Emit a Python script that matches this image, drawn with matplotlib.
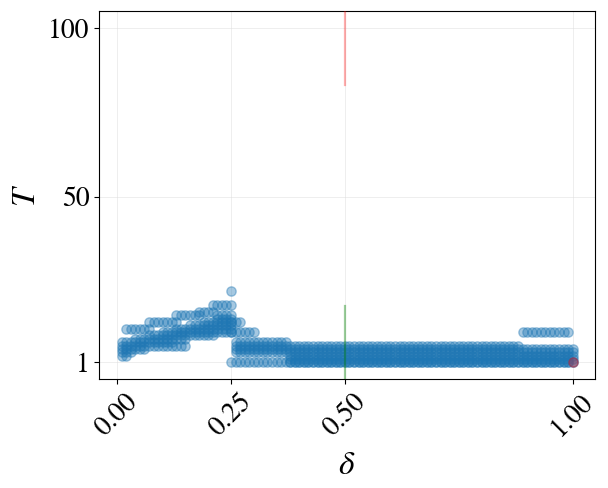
import numpy as np
import matplotlib
matplotlib.use("Agg")
import matplotlib.pyplot as plt

plt.rcParams['font.family'] = ['STIXGeneral', 'DejaVu Serif']
plt.rcParams['mathtext.fontset'] = 'stix'

# delta grid of the sweep
delta_grid = [round(0.01 * k, 2) for k in range(1, 101)]

# observed bands: (delta_from, delta_to, T_low, T_high) -> points at every integer T
band_from = [0.01, 0.04, 0.07, 0.10, 0.13, 0.16, 0.19, 0.22,   # rising dark band
             0.02, 0.07, 0.13, 0.18, 0.21,                     # upper light steps
             0.10, 0.25, 0.25, 0.25, 0.26, 0.25,
             0.38, 0.89, 0.89, 0.01]
band_to   = [0.03, 0.06, 0.09, 0.12, 0.15, 0.18, 0.21, 0.25,
             0.07, 0.13, 0.18, 0.21, 0.25,
             0.15, 0.25, 0.27, 0.30, 0.37, 1.00,
             0.88, 1.00, 0.99, 0.02]
band_lo   = [4, 5, 6, 7, 8, 9, 9, 10,
             11, 13, 15, 16, 18,
             6, 22, 13, 10, 4, 1,
             1, 1, 10, 3]
band_hi   = [7, 8, 9, 10, 11, 12, 13, 15,
             11, 13, 15, 16, 18,
             6, 22, 13, 10, 7, 1,
             6, 5, 10, 3]

# highlighted point
red_delta = [1.0]
red_T = [1]

xs, ys = [], []
for d0, d1, lo, hi in zip(band_from, band_to, band_lo, band_hi):
    for d in delta_grid:
        if d0 - 1e-9 <= d <= d1 + 1e-9:
            for t in range(lo, hi + 1):
                xs.append(d)
                ys.append(t)

fig = plt.figure(figsize=(6.08, 4.88), dpi=100)
ax = fig.add_axes([0.163, 0.223, 0.816, 0.754])

ax.scatter(xs, ys, s=45, color='#1f77b4', alpha=0.4, zorder=2)
ax.scatter(red_delta, red_T, s=45, color='red', alpha=0.3, zorder=3)

ax.axvline(0.5, ymin=0.8, ymax=1.0, color='red', alpha=0.32, lw=1.6, zorder=4)
ax.axvline(0.5, ymin=0.0, ymax=0.2, color='green', alpha=0.4, lw=1.6, zorder=4)

ax.set_xlim(-0.0395, 1.0495)
ax.set_ylim(-3.95, 104.95)
ax.set_xticks([0.0, 0.25, 0.5, 1.0])
ax.set_xticklabels(['0.00', '0.25', '0.50', '1.00'], rotation=45)
ax.set_yticks([1, 50, 100])
ax.set_yticklabels(['1', '50', '100'])
ax.tick_params(labelsize=20)
ax.grid(True, color='#dddddd', alpha=0.5, lw=0.7, zorder=0)
ax.set_axisbelow(True)
ax.set_xlabel(r'$\delta$', fontsize=24, labelpad=8)
ax.set_ylabel(r'$T$', fontsize=24)

fig.savefig('out.png', dpi=100)
